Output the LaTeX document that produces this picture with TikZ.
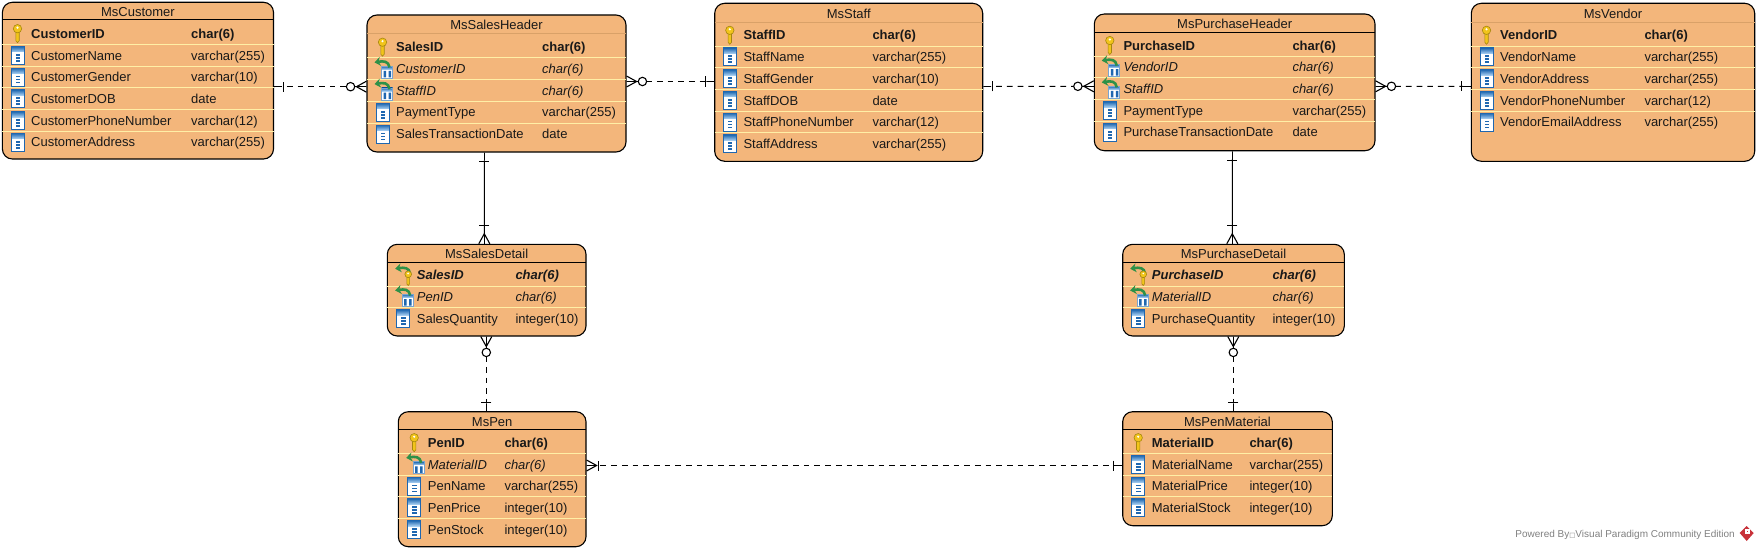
\documentclass[tikz,border=0pt]{standalone}
\usepackage{fontspec}
\setmainfont{Liberation Sans}
\newfontfamily\boxfont{DejaVu Sans}
\usetikzlibrary{arrows.meta}

\definecolor{entityfill}{HTML}{F3B67B}
\definecolor{rowline}{HTML}{FFEFA6}
\definecolor{fainthead}{HTML}{D9A168}
\definecolor{iconblue}{HTML}{1F67B0}
\definecolor{iconlight}{HTML}{A9D0F2}
\definecolor{keyyellow}{HTML}{F2C41B}
\definecolor{keyedge}{HTML}{A5860F}
\definecolor{arrowgreen}{HTML}{2E9148}
\definecolor{vpred}{HTML}{C8323A}

\tikzset{
  entity/.style={draw, fill=entityfill, rounded corners=10pt, line width=1.1pt, outer sep=0pt, inner sep=0pt},
  celltext/.style={anchor=base west, inner sep=0pt, font=\fontsize{13}{15}\selectfont, text=black!90},
  coltext/.style={celltext},
  pktext/.style={celltext, font=\fontsize{13}{15}\selectfont\bfseries},
  fktext/.style={celltext, font=\fontsize{13}{15}\selectfont\itshape},
  pftext/.style={celltext, font=\fontsize{13}{15}\selectfont\bfseries\itshape},
  titletext/.style={anchor=base, inner sep=0pt, font=\fontsize{13}{15}\selectfont, text=black!90},
  rel/.style={line width=1.1pt},
  reldash/.style={rel, dash pattern=on 5.7pt off 5pt},
  relgap/.style={reldash, dash phase=5.7pt},
  oneend/.tip={Bar[width=10pt,length=1.1pt] Rectangle[length=9pt,width=1.1pt]},
  bargap/.tip={Bar[width=10pt,length=1.1pt,sep=7pt]},
  crow/.tip={Straight Barb[reversed,length=10pt,width=11pt,sep=-10pt] Rectangle[length=10pt,width=1.1pt]},
  ring/.tip={Circle[open,length=9.5pt,width=9.5pt,fill=white]},
  pics/iconcol/.style={code={
    \fill[white] (-6.5,-9) rectangle (6.5,9);
    \shade[top color=iconblue, bottom color=iconlight] (-6.5,-9) rectangle (6.5,-3.5);
    \draw[iconblue, line width=1pt] (-6.5,-9) rectangle (6.5,9);
    \foreach \b in {-1.5,1.5,4.5} \fill[iconblue] (-2,\b) rectangle (2.5,\b+1.8);
  }},
  pics/iconpk/.style={code={
    \filldraw[fill=keyyellow, draw=keyedge, line width=.6pt] (-1.7,-3) -- (-1.7,7) -- (0,9) -- (1.7,7) -- (1.7,-3) -- cycle;
    \filldraw[fill=keyyellow, draw=keyedge, line width=.6pt] (0,-5) circle (4.2);
    \fill[white] (0,-6) circle (1.2);
  }},
  pics/fkarrow/.style={code={
    \draw[arrowgreen, line width=2.6pt, -{Stealth[length=6pt,width=9pt]}] (7,-1.5) .. controls (6,-8) and (1,-8) .. (-8,-6.5);
  }},
  pics/iconfk/.style={code={
    \fill[white] (-1,-2.7) rectangle (10,9.3);
    \shade[top color=iconblue, bottom color=iconlight] (-1,-2.7) rectangle (10,.5);
    \fill[iconblue] (1,2) rectangle (3.5,8.5) (6,2) rectangle (8.5,8.5);
    \draw[iconblue!60, line width=.7pt] (-1,-2.7) rectangle (10,9.3);
    \pic {fkarrow};
  }},
  pics/iconpf/.style={code={
    \pic {fkarrow};
    \pic[scale=.8] at (5,3) {iconpk};
  }},
}

% box with its title
\newcommand{\entitybox}[7][black]{
  \pgfmathsetmacro\bw{#5-#3}
  \pgfmathsetmacro\bh{#6-#4}
  \node[entity, minimum width=\bw pt, minimum height=\bh pt] (#2) at ({(#3+#5)/2},{(#4+#6)/2}) {};
  \draw[#1, line width=1pt] (#2.west |- 0,#7) -- (#2.east |- 0,#7);
  \node[titletext] (#2-title) at ({(#3+#5)/2},{(#4+#7)/2+5.5}) {#2};
}
% one row per item: icon, name, type
\newcommand{\entityrows}[5]{
  \foreach \kind/\fname/\ftype [count=\i from 0] in {#5} {
    \pgfmathsetmacro\rowy{#4+\i*21.7}
    \pgfmathsetmacro\sepy{\rowy-10.9}
    \ifnum\i>0
      \draw[rowline, line width=1pt] (#1.west |- 0,\sepy) -- (#1.east |- 0,\sepy);
    \fi
    \pic at (#2-13.5,\rowy) {icon\kind};
    \node[\kind text] (#1-\i-n) at (#2,\rowy+4.6) {\fname};
    \node[\kind text] (#1-\i-t) at (#3,\rowy+4.6) {\ftype};
  }
}

\begin{document}
\begin{tikzpicture}[x=1pt, y=-1pt]
  \useasboundingbox (0,0) rectangle (1759,551);

  \entitybox{MsCustomer}{2.4}{2.3}{273.5}{159}{20}
  \entityrows{MsCustomer}{31}{191}{33.7}{pk/CustomerID/char(6), col/CustomerName/varchar(255), col/CustomerGender/varchar(10), col/CustomerDOB/date, col/CustomerPhoneNumber/varchar(12), col/CustomerAddress/varchar(255)}

  \entitybox[fainthead]{MsSalesHeader}{367}{15}{626}{152}{34}
  \entityrows{MsSalesHeader}{396}{542}{47.2}{pk/SalesID/char(6), fk/CustomerID/char(6), fk/StaffID/char(6), col/PaymentType/varchar(255), col/SalesTransactionDate/date}

  \entitybox[fainthead]{MsStaff}{714.7}{3.3}{982.7}{161.3}{22.3}
  \entityrows{MsStaff}{743.3}{872.3}{35.3}{pk/StaffID/char(6), col/StaffName/varchar(255), col/StaffGender/varchar(10), col/StaffDOB/date, col/StaffPhoneNumber/varchar(12), col/StaffAddress/varchar(255)}

  \entitybox{MsPurchaseHeader}{1094.3}{14}{1375}{150.7}{32.7}
  \entityrows{MsPurchaseHeader}{1123.3}{1292.3}{45.5}{pk/PurchaseID/char(6), fk/VendorID/char(6), fk/StaffID/char(6), col/PaymentType/varchar(255), col/PurchaseTransactionDate/date}

  \entitybox[fainthead]{MsVendor}{1471.3}{3.3}{1754.7}{161.3}{22.3}
  \entityrows{MsVendor}{1500}{1644.3}{35.3}{pk/VendorID/char(6), col/VendorName/varchar(255), col/VendorAddress/varchar(255), col/VendorPhoneNumber/varchar(12), col/VendorEmailAddress/varchar(255)}

  \entitybox{MsSalesDetail}{387.3}{244.3}{586}{336}{262.3}
  \entityrows{MsSalesDetail}{416.7}{515.3}{275.3}{pf/SalesID/char(6), fk/PenID/char(6), col/SalesQuantity/integer(10)}

  \entitybox{MsPurchaseDetail}{1122.7}{244.3}{1344.3}{336}{262.3}
  \entityrows{MsPurchaseDetail}{1151.7}{1272.3}{275.3}{pf/PurchaseID/char(6), fk/MaterialID/char(6), col/PurchaseQuantity/integer(10)}

  \entitybox{MsPen}{398.3}{411.7}{586}{546.7}{429.3}
  \entityrows{MsPen}{427.7}{504.3}{442.7}{pk/PenID/char(6), fk/MaterialID/char(6), col/PenName/varchar(255), col/PenPrice/integer(10), col/PenStock/integer(10)}

  \entitybox{MsPenMaterial}{1122.7}{411.7}{1332.3}{525.7}{429.3}
  \entityrows{MsPenMaterial}{1151.7}{1249.3}{442.7}{pk/MaterialID/char(6), col/MaterialName/varchar(255), col/MaterialPrice/integer(10), col/MaterialStock/integer(10)}

  % relations
  \draw[relgap, {oneend[]}-{ring[] crow[]}] ([yshift=-6.05pt]MsCustomer.east) -- ([yshift=-3.2pt]MsSalesHeader.west);
  \draw[reldash, {crow[] ring[]}-{oneend[]}] ([yshift=2pt]MsSalesHeader.east) -- ([yshift=.8pt]MsStaff.west);
  \draw[relgap, {oneend[]}-{ring[] crow[]}] ([yshift=-4pt]MsStaff.east) -- ([yshift=-3.95pt]MsPurchaseHeader.west);
  \draw[reldash, {crow[] ring[]}-{oneend[]}] ([yshift=-3.95pt]MsPurchaseHeader.east) -- ([yshift=-4pt]MsVendor.west);
  \draw[rel, {oneend[]}-{bargap[] crow[]}] ([xshift=-12.2pt]MsSalesHeader.south) -- ([xshift=-2.35pt]MsSalesDetail.north);
  \draw[rel, {oneend[]}-{bargap[] crow[]}] ([xshift=-2.35pt]MsPurchaseHeader.south) -- ([xshift=-1.2pt]MsPurchaseDetail.north);
  \draw[reldash, {crow[] ring[]}-{oneend[]}] ([xshift=-.35pt]MsSalesDetail.south) -- ([xshift=-5.85pt]MsPen.north);
  \draw[reldash, {crow[] ring[]}-{oneend[]}] ([xshift=-.2pt]MsPurchaseDetail.south) -- ([xshift=5.8pt]MsPenMaterial.north);
  \draw[relgap, {crow[] Bar[width=10pt,length=1.1pt,sep=0pt]}-{oneend[]}] ([yshift=13.7pt]MsPen.east) -- ([yshift=3.2pt]MsPenMaterial.west);

  % footer
  \node[anchor=base east, inner sep=0pt, text=black!50, font=\fontsize{10}{12}\selectfont] (poweredby) at (1735,537.5) {Powered By{\boxfont\fontsize{6.5}{8}\selectfont □}Visual Paradigm Community Edition};
  \fill[vpred] (1746.7,526) -- (1753.7,533) -- (1746.7,541) -- (1739.7,533) -- cycle;
  \fill[white] (1745,529) rectangle (1749.5,533.5);
  \fill[vpred] (1746.5,530.5) rectangle (1748.2,532);
\end{tikzpicture}
\end{document}
